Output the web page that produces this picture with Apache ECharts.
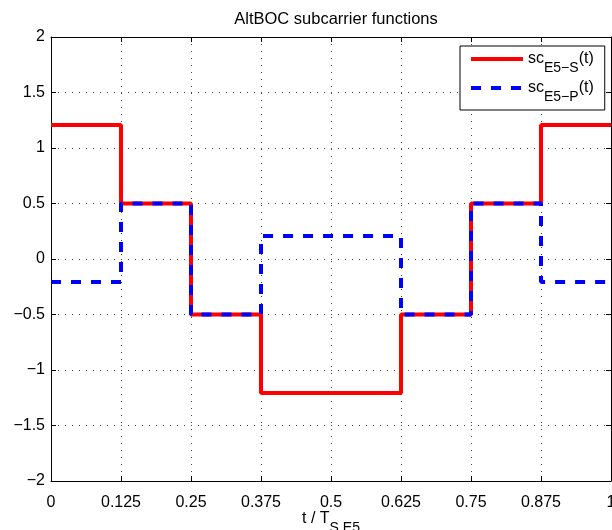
<!DOCTYPE html>
<html>
<head>
<meta charset="utf-8">
<script src="https://cdn.jsdelivr.net/npm/echarts@6/dist/echarts.min.js"></script>
<style>
  html, body { margin: 0; padding: 0; background: #fff; }
  #chart { width: 612px; height: 530px; }
</style>
</head>
<body>
<div id="chart"></div>
<script>
// Sample instants (in units of T_S,E5); each value holds until the next instant.
const tEdges = [0, 0.125, 0.25, 0.375, 0.5, 0.625, 0.75, 0.875, 1];
// Single-product subcarrier sc_E5-S(t)
const scE5S = [1.207, 0.5, -0.5, -1.207, -1.207, -0.5, 0.5, 1.207, 1.207];
// Product subcarrier sc_E5-P(t)
const scE5P = [-0.207, 0.5, -0.5, 0.207, 0.207, -0.5, 0.5, -0.207, -0.207];

const xTickLabels = ['0', '0.125', '0.25', '0.375', '0.5', '0.625', '0.75', '0.875', '1'];
const yTickLabels = ['\u22122', '\u22121.5', '\u22121', '\u22120.5', '0', '0.5', '1', '1.5', '2'];

const FONT = '"Liberation Sans", Arial, Helvetica, sans-serif';

const toPairs = (xs, ys) => xs.map((x, i) => [x, ys[i]]);

const chart = echarts.init(document.getElementById('chart'), null, { renderer: 'canvas' });

const gridDots = { type: [1, 6], color: '#444', width: 1 };
const boxLine = { onZero: false, lineStyle: { color: '#000', width: 1 } };

// Main text plus a lowered subscript on the same line
const subRich = (drop) => ({
  a: { fontSize: 16, fontFamily: FONT, color: '#000', verticalAlign: 'top', lineHeight: 16 },
  b: { fontSize: 14, fontFamily: FONT, color: '#000', verticalAlign: 'top', lineHeight: 14, padding: [drop, 0, 0, 0] }
});

// Legend samples: solid bar and dashed bar, 52 x 4
const solidIcon = 'path://M0,0h52v4h-52z';
const dashedIcon = 'path://M0,0h10v4h-10z M20,0h10v4h-10z M40,0h10v4h-10z M52,0h0.01v4h-0.01z';

const option = {
  animation: false,
  backgroundColor: '#fff',
  title: {
    text: 'AltBOC subcarrier functions',
    left: 331,
    textAlign: 'center',
    top: 6,
    textStyle: { fontSize: 16.5, fontWeight: 'normal', color: '#000', fontFamily: FONT }
  },
  legend: {
    left: 460,
    top: 46,
    orient: 'vertical',
    padding: [5, 11, 6, 11],
    itemGap: 5,
    itemWidth: 52,
    itemHeight: 4,
    backgroundColor: '#fff',
    borderColor: '#000',
    borderWidth: 1,
    borderRadius: 0,
    data: [
      { name: 'E5\u2212S', icon: solidIcon },
      { name: 'E5\u2212P', icon: dashedIcon }
    ],
    formatter: name => '{a|sc}{b|' + name + '}{a|(t)}',
    textStyle: { rich: subRich(10) }
  },
  grid: { left: 51, right: 1, top: 37, bottom: 49, outerBoundsMode: 'none' },
  xAxis: [
    {
      type: 'value', min: 0, max: 1, interval: 0.125, position: 'bottom',
      axisLine: boxLine,
      axisTick: { inside: true, length: 5, lineStyle: { color: '#000' } },
      axisLabel: {
        margin: 14, fontSize: 16, fontFamily: FONT, color: '#000',
        formatter: v => xTickLabels[Math.round(v / 0.125)]
      },
      splitLine: { show: true, lineStyle: gridDots },
      name: '{a|t / T}{b|S,E5}',
      nameLocation: 'middle',
      nameGap: 30,
      nameMoveOverlap: false,
      nameTextStyle: { rich: subRich(10) }
    },
    {
      type: 'value', min: 0, max: 1, interval: 0.125, position: 'top',
      axisLine: boxLine,
      axisTick: { inside: true, length: 5, lineStyle: { color: '#000' } },
      axisLabel: { show: false },
      splitLine: { show: false }
    }
  ],
  yAxis: [
    {
      type: 'value', min: -2, max: 2, interval: 0.5, position: 'left',
      axisLine: boxLine,
      axisTick: { inside: true, length: 5, lineStyle: { color: '#000' } },
      axisLabel: {
        margin: 6, fontSize: 16, fontFamily: FONT, color: '#000',
        formatter: v => yTickLabels[Math.round((v + 2) / 0.5)]
      },
      splitLine: { show: true, lineStyle: gridDots }
    },
    {
      type: 'value', min: -2, max: 2, interval: 0.5, position: 'right',
      axisLine: boxLine,
      axisTick: { inside: true, length: 5, lineStyle: { color: '#000' } },
      axisLabel: { show: false },
      splitLine: { show: false }
    }
  ],
  series: [
    {
      name: 'E5\u2212S',
      type: 'line',
      step: 'end',
      symbol: 'none',
      data: toPairs(tEdges, scE5S),
      color: '#ff0000',
      lineStyle: { color: '#ff0000', width: 4 },
      z: 3
    },
    {
      name: 'E5\u2212P',
      type: 'line',
      step: 'end',
      symbol: 'none',
      data: toPairs(tEdges, scE5P),
      color: '#0000ff',
      lineStyle: { color: '#0000ff', width: 4, type: [10, 10] },
      z: 4
    }
  ]
};

chart.setOption(option);
</script>
</body>
</html>
